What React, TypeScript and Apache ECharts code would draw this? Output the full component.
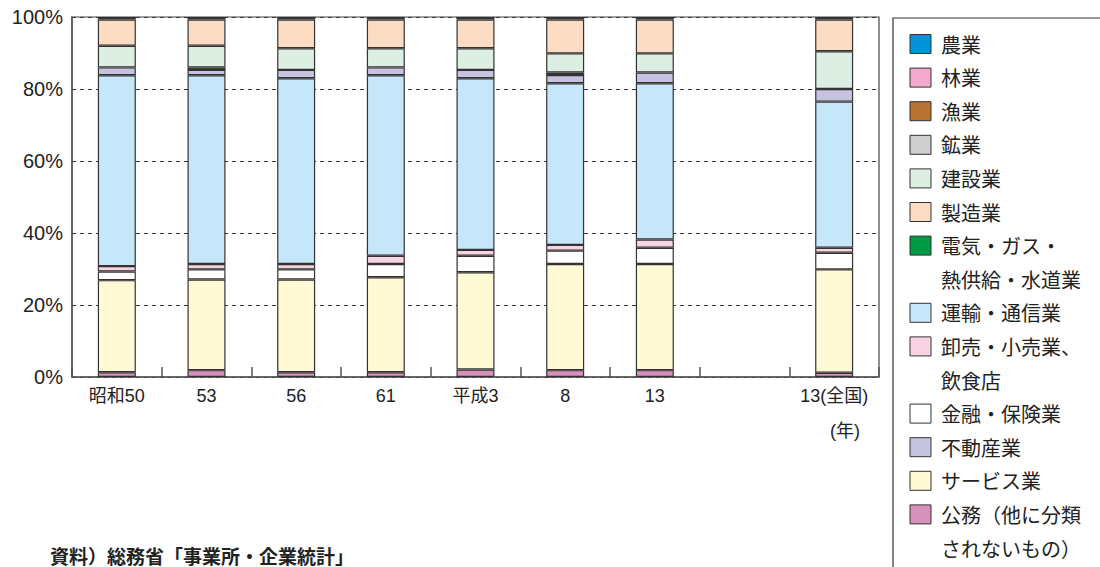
import React, { useEffect, useRef } from "react";
import * as echarts from "echarts";

const categories = ["昭和50", "53", "56", "61", "平成3", "8", "13", "", "13(全国)"];
const yTicks = [0, 20, 40, 60, 80, 100];

// stacked bottom -> top
const koumu = [1.3, 1.9, 1.3, 1.3, 2.1, 1.9, 1.9, null, 1.2];
const service = [25.6, 25.2, 25.8, 26.4, 27.0, 29.5, 29.5, null, 28.7];
const kinyu = [2.4, 2.8, 2.8, 3.7, 4.6, 3.7, 4.5, null, 4.6];
const oroshi = [1.5, 1.5, 1.5, 2.3, 1.6, 1.6, 2.3, null, 1.4];
const unyu = [53.0, 52.4, 51.6, 50.1, 47.7, 44.9, 43.4, null, 40.6];
const fudosan = [2.2, 1.5, 2.3, 2.2, 2.3, 2.3, 3.0, null, 3.5];
const denki = [null, 0.7, null, null, null, 0.7, null, null, null];
const kensetsu = [6.0, 6.0, 6.0, 5.3, 6.0, 5.3, 5.3, null, 10.5];
const seizo = [7.3, 7.3, 8.0, 8.0, 8.0, 9.4, 9.4, null, 8.8];
const gyogyo = [null, null, null, null, null, null, null, null, null];
const kogyo = [null, null, null, null, null, null, null, null, 0.7];
const ringyo = [null, null, null, 0.7, null, null, null, null, null];
const nogyo = [0.7, 0.7, 0.7, null, 0.7, 0.7, 0.7, null, null];

const seriesDefs = [
  { name: "公務（他に分類されないもの）", data: koumu, color: "#d890bd" },
  { name: "サービス業", data: service, color: "#fff9d5" },
  { name: "金融・保険業", data: kinyu, color: "#ffffff" },
  { name: "卸売・小売業、飲食店", data: oroshi, color: "#f8d3e3" },
  { name: "運輸・通信業", data: unyu, color: "#c6e7f9" },
  { name: "不動産業", data: fudosan, color: "#c6c3e0" },
  { name: "電気・ガス・熱供給・水道業", data: denki, color: "#009944" },
  { name: "建設業", data: kensetsu, color: "#ddeee3" },
  { name: "製造業", data: seizo, color: "#fddcc4" },
  { name: "漁業", data: gyogyo, color: "#b87333" },
  { name: "鉱業", data: kogyo, color: "#cfcfcf" },
  { name: "林業", data: ringyo, color: "#f2a9cd" },
  { name: "農業", data: nogyo, color: "#0095d9" },
];

// legend display order and line breaks
const legendRows: { text: string; color: string | null }[] = [
  { text: "農業", color: "#0095d9" },
  { text: "林業", color: "#f2a9cd" },
  { text: "漁業", color: "#b87333" },
  { text: "鉱業", color: "#cfcfcf" },
  { text: "建設業", color: "#ddeee3" },
  { text: "製造業", color: "#fddcc4" },
  { text: "電気・ガス・", color: "#009944" },
  { text: "熱供給・水道業", color: null },
  { text: "運輸・通信業", color: "#c6e7f9" },
  { text: "卸売・小売業、", color: "#f8d3e3" },
  { text: "飲食店", color: null },
  { text: "金融・保険業", color: "#ffffff" },
  { text: "不動産業", color: "#c6c3e0" },
  { text: "サービス業", color: "#fff9d5" },
  { text: "公務（他に分類", color: "#d890bd" },
  { text: "されないもの）", color: null },
];

const sourceText = "資料）総務省「事業所・企業統計」";
const unitText = "(年)";

const FONT = "'Liberation Sans', 'Noto Sans CJK JP', sans-serif";

export default function App() {
  const ref = useRef<HTMLDivElement>(null);

  useEffect(() => {
    if (!ref.current) return;
    const chart = echarts.init(ref.current, null, { renderer: "svg" });

    const legendGraphics: any[] = [
      {
        type: "rect",
        shape: { x: 893, y: 18, width: 230, height: 570 },
        style: { fill: "#fff", stroke: "#333", lineWidth: 1.2 },
        z: 1,
      },
    ];
    legendRows.forEach((r, i) => {
      const cy = 44 + 33.6 * i;
      if (r.color) {
        legendGraphics.push({
          type: "rect",
          shape: { x: 910, y: cy - 9.5, width: 21, height: 19 },
          style: { fill: r.color, stroke: "#333", lineWidth: 1 },
          z: 2,
        });
      }
      legendGraphics.push({
        type: "text",
        x: 941,
        y: cy,
        style: {
          text: r.text,
          fill: "#222",
          font: `20px 'Noto Sans CJK JP', sans-serif`,
          verticalAlign: "middle",
          align: "left",
        },
        z: 2,
      });
    });

    const option: any = {
      animation: false,
      backgroundColor: "#fff",
      grid: {
        left: 72,
        right: 221,
        top: 17,
        bottom: 190,
        show: true,
        borderColor: "#444",
        borderWidth: 1.2,
        backgroundColor: "transparent",
      },
      xAxis: {
        type: "category",
        data: categories,
        boundaryGap: true,
        axisLine: { show: true, lineStyle: { color: "#555", width: 1.5 } },
        axisTick: {
          show: true,
          inside: true,
          length: 10,
          lineStyle: { color: "#555", width: 1.5 },
        },
        axisLabel: {
          fontSize: 18,
          color: "#222",
          margin: 10,
          fontFamily: FONT,
        },
      },
      yAxis: {
        type: "value",
        min: yTicks[0],
        max: yTicks[yTicks.length - 1],
        interval: 20,
        axisLine: { show: true, lineStyle: { color: "#555", width: 1.5 } },
        axisTick: { show: false },
        axisLabel: {
          formatter: "{value}%",
          fontSize: 20,
          color: "#222",
          margin: 9,
          fontFamily: FONT,
        },
        splitLine: {
          show: true,
          lineStyle: { color: "#333", width: 1, type: [4, 4] },
        },
      },
      series: seriesDefs.map((s) => ({
        name: s.name,
        type: "bar",
        stack: "total",
        data: s.data,
        barWidth: 38,
        itemStyle: { color: s.color, borderColor: "#333", borderWidth: 1.2 },
        emphasis: { disabled: true },
      })),
      graphic: [
        ...legendGraphics,
        {
          type: "text",
          x: 845,
          y: 431,
          style: {
            text: unitText,
            fill: "#222",
            font: `18px ${FONT}`,
            align: "center",
            verticalAlign: "middle",
          },
        },
        {
          type: "text",
          x: 50,
          y: 555,
          style: {
            text: sourceText,
            fill: "#222",
            font: `bold 19px 'Noto Sans CJK JP', sans-serif`,
            align: "left",
            verticalAlign: "middle",
          },
        },
      ],
    };

    chart.setOption(option);
    return () => chart.dispose();
  }, []);

  return (
    <div
      ref={ref}
      style={{ position: "fixed", left: 0, top: 0, width: 1100, height: 567 }}
    />
  );
}
